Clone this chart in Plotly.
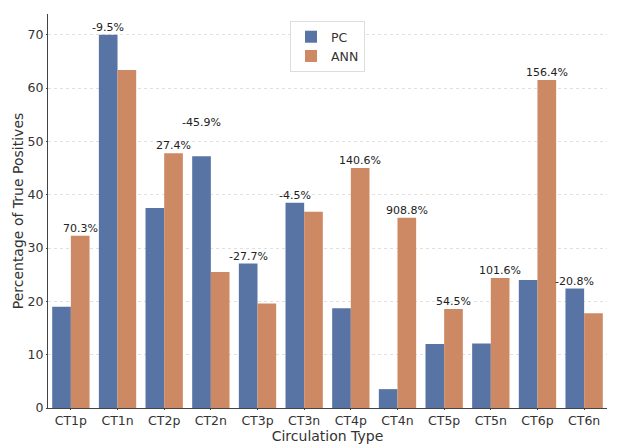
import plotly.graph_objects as go

categories = ["CT1p", "CT1n", "CT2p", "CT2n", "CT3p", "CT3n",
              "CT4p", "CT4n", "CT5p", "CT5n", "CT6p", "CT6n"]
pc_values = [19.0, 70.0, 37.5, 47.2, 27.1, 38.5, 18.7, 3.54, 12.0, 12.1, 24.0, 22.4]
ann_values = [32.3, 63.4, 47.8, 25.5, 19.6, 36.8, 45.0, 35.7, 18.55, 24.4, 61.5, 17.75]
change_labels = ["70.3%", "-9.5%", "27.4%", "-45.9%", "-27.7%", "-4.5%",
                 "140.6%", "908.8%", "54.5%", "101.6%", "156.4%", "-20.8%"]

FONT = "DejaVu Sans"
PC_COLOR = "#5874A4"
ANN_COLOR = "#CD8963"
extra_lift_px = {"CT2n": 26}

fig = go.Figure()
fig.add_trace(go.Bar(x=categories, y=pc_values, name="PC",
                     marker=dict(color=PC_COLOR, line=dict(width=0))))
fig.add_trace(go.Bar(x=categories, y=ann_values, name="ANN",
                     marker=dict(color=ANN_COLOR, line=dict(width=0))))

annotations = []
for i, (cat, p, a, lab) in enumerate(zip(categories, pc_values, ann_values, change_labels)):
    top = max(p, a)
    xpos = i - 0.2 if p >= a else i + 0.2
    annotations.append(dict(
        x=xpos, y=top, xref="x", yref="y", text=lab, showarrow=False,
        yanchor="bottom", xanchor="center", yshift=-1 + extra_lift_px.get(cat, 0),
        font=dict(family=FONT, size=11, color="#222222")))

fig.update_layout(
    width=625, height=447,
    margin=dict(l=48, r=18, t=14, b=39, autoexpand=False),
    plot_bgcolor="white", paper_bgcolor="white",
    barmode="group", bargap=0.2, bargroupgap=0,
    font=dict(family=FONT, size=12, color="#333333"),
    annotations=annotations,
    legend=dict(x=0.5, xanchor="center", y=0.982, yanchor="top",
                bgcolor="white", bordercolor="#DDDDDD", borderwidth=1,
                font=dict(family=FONT, size=12.5, color="#333333"),
                itemwidth=30, tracegroupgap=0),
    showlegend=True,
)
fig.update_xaxes(
    type="category", range=[-0.49, 11.49], automargin=False,
    showline=True, linecolor="#444444", linewidth=1,
    ticks="outside", ticklen=1, tickcolor="#444444",
    tickfont=dict(family=FONT, size=12.5, color="#333333"),
    title=dict(text="Circulation Type", font=dict(family=FONT, size=14, color="#333333"), standoff=0),
    showgrid=False,
)
fig.update_yaxes(
    range=[0, 73.9], dtick=10, automargin=False,
    showline=True, linecolor="#444444", linewidth=1,
    ticks="outside", ticklen=1, tickcolor="#444444",
    tickfont=dict(family=FONT, size=12.5, color="#333333"),
    title=dict(text="Percentage of True Positives", font=dict(family=FONT, size=14, color="#333333"), standoff=0),
    showgrid=True, gridcolor="#E0E0E0", griddash="dot", gridwidth=1,
    zeroline=False,
)

fig.write_html("out.html", config={"displayModeBar": False},
               post_script="document.body.style.margin='0';document.body.style.overflow='hidden';")
